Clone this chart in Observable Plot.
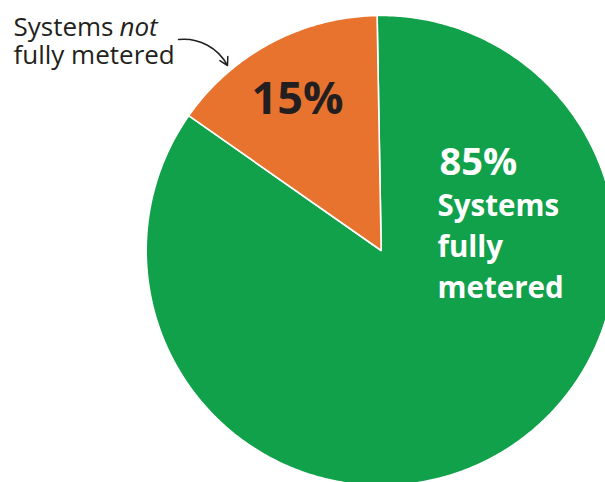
<!DOCTYPE html>
<html>
<head>
<meta charset="utf-8">
<script src="https://cdn.jsdelivr.net/npm/d3@7"></script>
<script src="https://cdn.jsdelivr.net/npm/@observablehq/plot@0.6"></script>
<style>
  html, body { margin: 0; padding: 0; background: #fff; }
  #chart svg { display: block; }
</style>
</head>
<body>
<div id="chart"></div>
<script>
// ---- data ----
const categories = ["Systems fully metered", "Systems not fully metered"];
const shares = [85, 15];
const shareLabels = ["85%", "15%"];

// ---- styles / layout ----
const sliceColors = ["#11a14b", "#e8732f"];
const W = 605, H = 482;
const center = [380.7, 250];
const radius = 235;
const startDeg = -1; // slices run clockwise from just left of 12 o'clock

// pie geometry from data
const pie = d3.pie().sort(null).value(d => d)
  .startAngle(startDeg * Math.PI / 180)
  .endAngle((startDeg + 360) * Math.PI / 180)(shares);

const pts = [];
pie.forEach((s, i) => {
  const key = categories[i];
  pts.push({key, x: center[0], y: center[1]});
  const n = Math.max(8, Math.ceil((s.endAngle - s.startAngle) / 0.01));
  for (let k = 0; k <= n; k++) {
    const a = s.startAngle + (s.endAngle - s.startAngle) * k / n;
    pts.push({key, x: center[0] + radius * Math.sin(a), y: center[1] - radius * Math.cos(a)});
  }
  pts.push({key, x: center[0], y: center[1]});
});

const font = "'Open Sans', 'Noto Sans', sans-serif";
const ink = "#231f20";

const plot = Plot.plot({
  width: W, height: H,
  margin: 0,
  x: {domain: [0, W], range: [0, W], axis: null},
  y: {domain: [0, H], range: [0, H], axis: null},
  color: {domain: categories, range: sliceColors},
  style: {fontFamily: font, background: "white", overflow: "hidden"},
  marks: [
    Plot.line(pts, {x: "x", y: "y", z: "key", fill: "key", stroke: "white", strokeWidth: 1.6, strokeLinejoin: "round", curve: "linear"}),
    // 15% label
    Plot.text([shareLabels[1]], {x: 297, y: 113, text: d => d, fontSize: 45, fontWeight: "bold", fill: ink, textAnchor: "middle", lineAnchor: "bottom"}),
    // 85% label
    Plot.text([shareLabels[0]], {x: 439, y: 174, text: d => d, fontSize: 38, fontWeight: "bold", fill: "white", textAnchor: "start", lineAnchor: "bottom"}),
    Plot.text(["Systems\nfully\nmetered"], {x: 437, y: 297, text: d => d, fontSize: 29.5, fontWeight: "bold", fill: "white", textAnchor: "start", lineAnchor: "bottom", lineHeight: 1.375}),
    // callout
    Plot.text(["Systems"], {x: 13, y: 35, text: d => d, fontSize: 26, fill: ink, textAnchor: "start", lineAnchor: "bottom"}),
    Plot.text(["not"], {x: 119, y: 35, text: d => d, fontSize: 26, fontStyle: "italic", fill: ink, textAnchor: "start", lineAnchor: "bottom"}),
    Plot.text(["fully metered"], {x: 13, y: 63, text: d => d, fontSize: 26, fill: ink, textAnchor: "start", lineAnchor: "bottom"}),
    Plot.arrow([{x1: 178, y1: 39, x2: 227, y2: 65}], {x1: "x1", y1: "y1", x2: "x2", y2: "y2", bend: 34, stroke: ink, strokeWidth: 1.5, headLength: 9})
  ]
});
document.getElementById("chart").appendChild(plot);
</script>
</body>
</html>
